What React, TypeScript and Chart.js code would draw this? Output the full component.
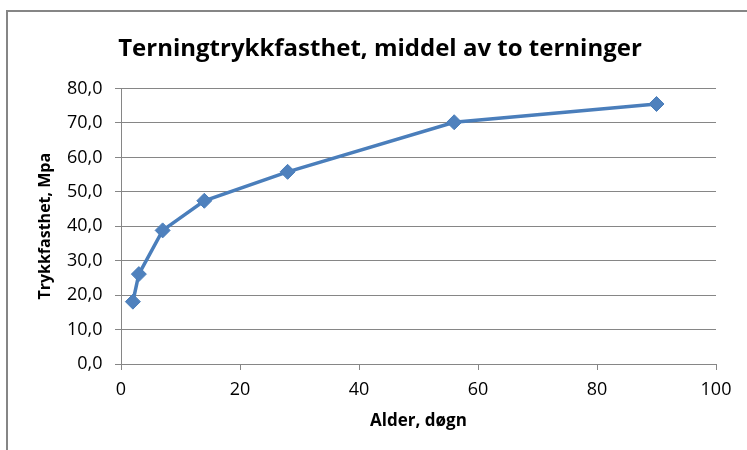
import React, { useEffect, useRef } from "react";
import { Chart, registerables } from "chart.js";

Chart.register(...registerables);

const chartTitle = "Terningtrykkfasthet, middel av to terninger";
const xAxisTitle = "Alder, døgn";
const yAxisTitle = "Trykkfasthet, Mpa";
const ageDays = [2, 3, 7, 14, 28, 56, 90];
const strengthMpa = [18.1, 26.1, 38.8, 47.4, 55.8, 70.2, 75.5];

const FONT = '"Open Sans", sans-serif';
const GREY = "#868686";

const framePlugin = {
  id: "frame",
  beforeDraw(chart: any) {
    const ctx = chart.ctx;
    ctx.save();
    ctx.fillStyle = "#ffffff";
    ctx.fillRect(0, 0, chart.width, chart.height);
    ctx.strokeStyle = GREY;
    ctx.lineWidth = 2;
    ctx.beginPath();
    ctx.moveTo(7, chart.height);
    ctx.lineTo(7, 11);
    ctx.lineTo(chart.width, 11);
    ctx.stroke();
    ctx.restore();
  },
  afterDraw(chart: any) {
    const ctx = chart.ctx;
    ctx.save();
    ctx.fillStyle = "#000000";
    ctx.font = `bold 24px ${FONT}`;
    ctx.textAlign = "center";
    ctx.textBaseline = "alphabetic";
    ctx.fillText(chartTitle, 380, 56);
    ctx.restore();
  },
};

export default function App() {
  const ref = useRef<HTMLCanvasElement | null>(null);
  useEffect(() => {
    if (!ref.current) return;
    const chart = new Chart(ref.current, {
      type: "line",
      data: {
        datasets: [
          {
            data: ageDays.map((a, i) => ({ x: a, y: strengthMpa[i] })),
            borderColor: "#4A7EBB",
            backgroundColor: "#4F81BD",
            borderWidth: 3.5,
            pointStyle: "rectRot",
            pointRadius: 7.5,
            pointBorderWidth: 1,
            pointBorderColor: "#4A7EBB",
            pointBackgroundColor: "#4F81BD",
            tension: 0,
            fill: false,
          },
        ],
      },
      options: {
        responsive: false,
        animation: false,
        layout: { padding: { top: 88.5, right: 31, bottom: 0, left: 0 } },
        plugins: {
          legend: { display: false },
          title: { display: false },
          tooltip: { enabled: false },
        },
        scales: {
          x: {
            type: "linear",
            min: 0,
            max: 100,
            ticks: {
              stepSize: 20,
              color: "#000000",
              padding: 9,
              font: { family: FONT, size: 18 },
            },
            grid: {
              drawOnChartArea: false,
              drawTicks: true,
              tickLength: 6,
              color: GREY,
            },
            border: { display: true, color: GREY, width: 1 },
            title: {
              display: true,
              text: xAxisTitle,
              color: "#000000",
              font: { family: FONT, size: 17, weight: "bold" },
              padding: { top: 0, bottom: 19 },
            },
            afterFit(scale: any) {
              scale.height = 450 - 364;
            },
          },
          y: {
            type: "linear",
            min: 0,
            max: 80,
            ticks: {
              stepSize: 10,
              color: "#000000",
              padding: 12.5,
              font: { family: FONT, size: 18 },
              callback: (v: any) => Number(v).toFixed(1).replace(".", ","),
            },
            grid: {
              drawOnChartArea: true,
              drawTicks: true,
              tickLength: 6,
              color: GREY,
            },
            border: { display: true, color: GREY, width: 1 },
            title: {
              display: true,
              text: yAxisTitle,
              color: "#000000",
              font: { family: FONT, size: 16, weight: "bold" },
              padding: { top: 36, bottom: 0 },
            },
            afterFit(scale: any) {
              scale.width = 121;
            },
          },
        },
      },
      plugins: [framePlugin],
    } as any);
    return () => chart.destroy();
  }, []);
  return (
    <div style={{ position: "fixed", left: 0, top: 0, width: 747, height: 450 }}>
      <canvas ref={ref} width={747} height={450} style={{ display: "block" }} />
    </div>
  );
}
